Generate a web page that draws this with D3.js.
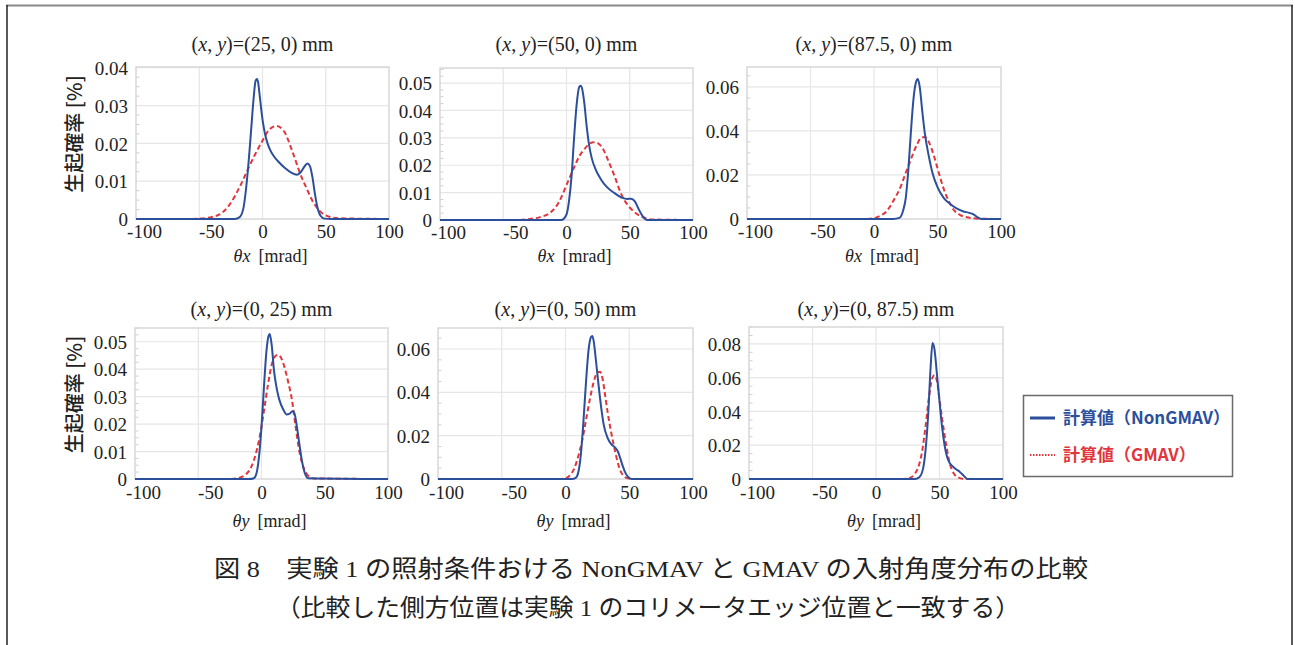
<!DOCTYPE html>
<html><head><meta charset="utf-8">
<script src="https://cdn.jsdelivr.net/npm/d3@7"></script>
<style>body{margin:0;background:#fff;} svg{display:block;}</style>
</head><body><svg id="c" width="1295" height="645"></svg>
<script>
// ---------------- data ----------------
const xTickValues = [-100, -50, 0, 50, 100];
const xTickLabels = ["-100", "-50", "0", "50", "100"];
const panelPositions = [["25", "0"], ["50", "0"], ["87.5", "0"], ["0", "25"], ["0", "50"], ["0", "87.5"]];
const axisVars = ["x", "x", "x", "y", "y", "y"];
const yMaxValues = [0.0402, 0.0555, 0.069, 0.055, 0.0697, 0.09];
const yTickValues = [
  [0, 0.01, 0.02, 0.03, 0.04],
  [0, 0.01, 0.02, 0.03, 0.04, 0.05],
  [0, 0.02, 0.04, 0.06],
  [0, 0.01, 0.02, 0.03, 0.04, 0.05],
  [0, 0.02, 0.04, 0.06],
  [0, 0.02, 0.04, 0.06, 0.08]
];
const yTickLabels = [
  ["0", "0.01", "0.02", "0.03", "0.04"],
  ["0", "0.01", "0.02", "0.03", "0.04", "0.05"],
  ["0", "0.02", "0.04", "0.06"],
  ["0", "0.01", "0.02", "0.03", "0.04", "0.05"],
  ["0", "0.02", "0.04", "0.06"],
  ["0", "0.02", "0.04", "0.06", "0.08"]
];
const seriesNames = ["計算値（NonGMAV）", "計算値（GMAV）"];

// Panel 1 : (x,y)=(25,0)
const p1ThetaNon = [-100,-30,-22,-18,-15,-13,-11,-9,-7,-5.5,-4.5,-3.5,-2.5,-1,0.5,2,4,6,9,13,18,23,27,30,33,35.5,37.5,39.5,41.5,43.5,46,49,55,100];
const p1ValNon   = [0,0,0,0.0005,0.003,0.008,0.015,0.0235,0.032,0.0365,0.037,0.0362,0.0335,0.029,0.0252,0.0225,0.0200,0.0183,0.0166,0.0150,0.0134,0.0122,0.0117,0.0123,0.0138,0.0147,0.0140,0.0110,0.0065,0.0030,0.0008,0.0001,0,0];
const p1ThetaGm  = [-100,-60,-50,-42,-34,-26,-18,-12,-6,0,5,11,17,24,30,35,40,45,52,60,100];
const p1ValGm    = [0,0,0.0001,0.0004,0.0012,0.0038,0.0085,0.0128,0.017,0.0207,0.0235,0.0246,0.0232,0.0175,0.0118,0.0080,0.0045,0.0022,0.0007,0.0002,0];

// Panel 2 : (x,y)=(50,0)
const p2ThetaNon = [-100,-10,-4,0,2,4,6,8,10,11,12,14,16,18,20,23,27,32,38,44,48,51,54,57,60,64,100];
const p2ValNon   = [0,0,0,0.002,0.007,0.016,0.030,0.042,0.0485,0.049,0.0485,0.043,0.034,0.027,0.0225,0.0185,0.015,0.012,0.0098,0.0081,0.0077,0.0078,0.0068,0.004,0.0015,0,0];
const p2ThetaGm  = [-100,-40,-30,-20,-12,-6,-1.6,3,6.3,10,14,18,21.6,25,29,33,38,43,48,54,60,68,100];
const p2ValGm    = [0,0,0.0003,0.0012,0.003,0.0065,0.011,0.016,0.0195,0.0232,0.0258,0.0278,0.0284,0.028,0.0258,0.0217,0.016,0.0097,0.0057,0.0028,0.0011,0.0002,0];

// Panel 3 : (x,y)=(87.5,0)
const p3ThetaNon = [-100,15,20,23,25,27,29,31,33,34.5,36,38,40,43,46,50,55,60,65,70,75,78,81,85,100];
const p3ValNon   = [0,0,0.0005,0.004,0.0095,0.022,0.039,0.054,0.062,0.0635,0.060,0.049,0.039,0.029,0.021,0.0145,0.0095,0.0068,0.0048,0.0035,0.0028,0.0022,0.001,0,0];
const p3ThetaGm  = [-100,-5,0,5,10,15,21,25,28,31,34,37,40,43,47,51,55,59,63,68,75,85,100];
const p3ValGm    = [0,0,0.0004,0.0015,0.0036,0.008,0.0147,0.021,0.0255,0.030,0.034,0.0368,0.0372,0.0352,0.029,0.021,0.0135,0.008,0.004,0.0018,0.0006,0.0001,0];

// Panel 4 : (x,y)=(0,25)
const p4ThetaNon = [-100,-10,-6,-4,-2,0,2,4,5.5,6.5,8,10,12,14,17,20,22,24.5,26,28,30,32,34,37,100];
const p4ValNon   = [0,0,0.0003,0.002,0.008,0.019,0.034,0.047,0.052,0.0528,0.049,0.039,0.033,0.029,0.0255,0.0235,0.0237,0.0247,0.024,0.019,0.0125,0.0065,0.0025,0.0003,0];
const p4ThetaGm  = [-100,-25,-18,-12,-8,-4,-1,2,5,8,11,13,15,18,21,24,27,30,33,37,42,100];
const p4ValGm    = [0,0,0.0004,0.0018,0.0045,0.010,0.0165,0.025,0.034,0.0415,0.0448,0.0452,0.0445,0.041,0.0355,0.029,0.019,0.0099,0.0045,0.0012,0.0002,0];

// Panel 5 : (x,y)=(0,50)
const p5ThetaNon = [-100,5,8,10,12,14,16,18,20,21,22,24,26,28,30,33,36,39,41,43,45,47,49,52,100];
const p5ValNon   = [0,0,0.0005,0.003,0.011,0.026,0.044,0.059,0.0655,0.066,0.064,0.054,0.043,0.033,0.025,0.019,0.016,0.0145,0.0128,0.0095,0.0058,0.0028,0.001,0,0];
const p5ThetaGm  = [-100,-5,0,4,7,10,13,16,19,22,25,27,29,31,33,36,39,42,45,49,55,100];
const p5ValGm    = [0,0,0.0003,0.002,0.005,0.0105,0.0175,0.027,0.0365,0.0445,0.0492,0.0495,0.0465,0.039,0.031,0.021,0.0125,0.0055,0.0018,0.0003,0,0];

// Panel 6 : (x,y)=(0,87.5)
const p6ThetaNon = [-100,30,34,37,39,41,43,44.5,46,48,50,52,54,56,58,60,63,66,69,72,100];
const p6ValNon   = [0,0,0.001,0.006,0.017,0.037,0.066,0.0805,0.077,0.062,0.046,0.031,0.020,0.013,0.0095,0.0078,0.0058,0.0042,0.002,0,0];
const p6ThetaGm  = [-100,20,26,30,33,36,39,42,44,46,48,50,52,54,56,58,61,65,70,100];
const p6ValGm    = [0,0,0.0005,0.0025,0.0065,0.015,0.031,0.050,0.059,0.0615,0.058,0.047,0.036,0.026,0.017,0.0095,0.0035,0.0008,0,0];

const nonTheta = [p1ThetaNon, p2ThetaNon, p3ThetaNon, p4ThetaNon, p5ThetaNon, p6ThetaNon];
const nonVal   = [p1ValNon, p2ValNon, p3ValNon, p4ValNon, p5ValNon, p6ValNon];
const gmTheta  = [p1ThetaGm, p2ThetaGm, p3ThetaGm, p4ThetaGm, p5ThetaGm, p6ThetaGm];
const gmVal    = [p1ValGm, p2ValGm, p3ValGm, p4ValGm, p5ValGm, p6ValGm];

// ---------------- layout / style ----------------
const boxes = [
  {l:136, r:389, t:67, b:219}, {l:440, r:693, t:68, b:220}, {l:747, r:1001, t:67, b:219},
  {l:135, r:388, t:328, b:479}, {l:438, r:693, t:328, b:479}, {l:749, r:1003, t:327, b:479}
];
const BLUE = "#2c4f9c", RED = "#e0363c";
const serif = "'Liberation Serif','Times New Roman',serif";
const sans = "'Noto Sans CJK JP','Noto Sans',sans-serif";

const svg = d3.select("#c");
svg.append("rect").attr("width",1295).attr("height",645).attr("fill","#fff");
// outer frame
svg.append("line").attr("x1",6).attr("x2",1293).attr("y1",5.5).attr("y2",5.5).attr("stroke","#8a8a8a").attr("stroke-width",2);
svg.append("line").attr("x1",7).attr("x2",7).attr("y1",5).attr("y2",645).attr("stroke","#222").attr("stroke-width",1.5);
svg.append("line").attr("x1",1292).attr("x2",1292).attr("y1",5).attr("y2",645).attr("stroke","#222").attr("stroke-width",1.5);

boxes.forEach((bx, i) => {
  const g = svg.append("g");
  const x = d3.scaleLinear().domain([-100, 100]).range([bx.l, bx.r]);
  const y = d3.scaleLinear().domain([0, yMaxValues[i]]).range([bx.b, bx.t]);
  const major = yTickValues[i];
  const step = major[1] - major[0];
  const minor = d3.range(0, yMaxValues[i] + 1e-9, step / 4).filter(v => !major.some(m => Math.abs(m - v) < 1e-9));

  // grid
  g.selectAll(".gx").data(xTickValues.slice(1, -1)).join("line")
    .attr("x1", d => x(d)).attr("x2", d => x(d)).attr("y1", bx.t).attr("y2", bx.b)
    .attr("stroke", "#e6e6e6").attr("stroke-width", 1.2);
  g.selectAll(".gy").data(major.slice(1)).join("line")
    .attr("x1", bx.l).attr("x2", bx.r).attr("y1", d => y(d)).attr("y2", d => y(d))
    .attr("stroke", "#e6e6e6").attr("stroke-width", 1.2);
  // minor ticks
  g.selectAll(".my").data(minor).join("line")
    .attr("x1", bx.l).attr("x2", bx.l + 3.5).attr("y1", d => y(d)).attr("y2", d => y(d))
    .attr("stroke", "#cfcfcf").attr("stroke-width", 1);
  // frame
  g.append("rect").attr("x", bx.l).attr("y", bx.t).attr("width", bx.r - bx.l).attr("height", bx.b - bx.t)
    .attr("fill", "none").attr("stroke", "#d8d8d8").attr("stroke-width", 1.5);

  // axes labels (via d3 axes, domain hidden)
  const xa = d3.axisBottom(x).tickValues(xTickValues).tickFormat((d, k) => xTickLabels[k]).tickSize(0).tickPadding(0);
  const xg = g.append("g").attr("transform", `translate(0,${bx.b})`).call(xa);
  xg.select(".domain").remove();
  xg.selectAll("text").attr("font-family", serif).attr("font-size", 19).attr("fill", "#222")
    .attr("dy", null).attr("y", i < 3 ? 19 : 20)
    .attr("dx", d => d === -100 ? 8 : (d === -50 ? 12 : 0));
  const ya = d3.axisLeft(y).tickValues(major).tickFormat((d, k) => yTickLabels[i][k]).tickSize(0).tickPadding(8);
  const yg = g.append("g").attr("transform", `translate(${bx.l},0)`).call(ya);
  yg.select(".domain").remove();
  yg.selectAll("text").attr("font-family", serif).attr("font-size", 19).attr("fill", "#222").attr("dy", "0.35em");

  // title
  const cx = (bx.l + bx.r) / 2;
  const t = g.append("text").attr("x", cx).attr("y", i < 3 ? 51 : 316).attr("text-anchor", "middle")
    .attr("font-family", serif).attr("font-size", 20).attr("fill", "#222");
  t.append("tspan").text("(");
  t.append("tspan").attr("font-style", "italic").text("x");
  t.append("tspan").text(", ");
  t.append("tspan").attr("font-style", "italic").text("y");
  t.append("tspan").text(`)=(${panelPositions[i][0]}, ${panelPositions[i][1]}) mm`);

  // x label
  const xl = g.append("text").attr("x", cx + 8).attr("y", i < 3 ? 262 : 527).attr("text-anchor", "middle")
    .attr("font-family", serif).attr("font-size", 18).attr("fill", "#222");
  xl.append("tspan").attr("font-style", "italic").text("θ" + axisVars[i]);
  xl.append("tspan").attr("dx", 8).text("[mrad]");

  // y label
  if (i % 3 === 0) {
    g.append("text").attr("transform", `translate(82,${(bx.t + bx.b) / 2 - 9}) rotate(-90)`)
      .attr("text-anchor", "middle").attr("font-family", sans).attr("font-size", 20).attr("font-weight", 500)
      .attr("fill", "#222").text("生起確率 [%]");
  }

  // curves
  const line = d3.line().x(d => x(d[0])).y(d => y(d[1])).curve(d3.curveMonotoneX);
  const gm = d3.zip(gmTheta[i], gmVal[i]);
  const non = d3.zip(nonTheta[i], nonVal[i]);
  g.append("path").attr("d", line(gm)).attr("fill", "none").attr("stroke", RED)
    .attr("stroke-width", 2).attr("stroke-dasharray", "5,3");
  g.append("path").attr("d", line(non)).attr("fill", "none").attr("stroke", BLUE)
    .attr("stroke-width", 2);
});

// legend
const lg = svg.append("g");
lg.append("rect").attr("x", 1023.5).attr("y", 395.5).attr("width", 209).attr("height", 81)
  .attr("fill", "#fff").attr("stroke", "#6a6a6a").attr("stroke-width", 1.5);
lg.append("line").attr("x1", 1030).attr("x2", 1055).attr("y1", 418).attr("y2", 418).attr("stroke", BLUE).attr("stroke-width", 3);
lg.append("line").attr("x1", 1030).attr("x2", 1055).attr("y1", 455).attr("y2", 455).attr("stroke", RED)
  .attr("stroke-width", 2).attr("stroke-dasharray", "1.5,1.5");
lg.append("text").attr("x", 1063).attr("y", 424).attr("font-family", sans).attr("font-weight", 700)
  .attr("font-size", 17).attr("fill", BLUE).text(seriesNames[0]);
lg.append("text").attr("x", 1063).attr("y", 461).attr("font-family", sans).attr("font-weight", 700)
  .attr("font-size", 17).attr("fill", RED).text(seriesNames[1]);

// caption
svg.append("text").attr("x", 214).attr("y", 577).attr("textLength", 874).attr("lengthAdjust", "spacingAndGlyphs")
  .attr("font-family", serif + ",'Noto Sans CJK JP'").attr("font-size", 24).attr("fill", "#222")
  .text("図 8　実験 1 の照射条件おける NonGMAV と GMAV の入射角度分布の比較");
svg.append("text").attr("x", 276).attr("y", 616).attr("textLength", 744).attr("lengthAdjust", "spacingAndGlyphs")
  .attr("font-family", serif + ",'Noto Sans CJK JP'").attr("font-size", 24).attr("fill", "#222")
  .text("（比較した側方位置は実験 1 のコリメータエッジ位置と一致する）");
</script></body></html>
